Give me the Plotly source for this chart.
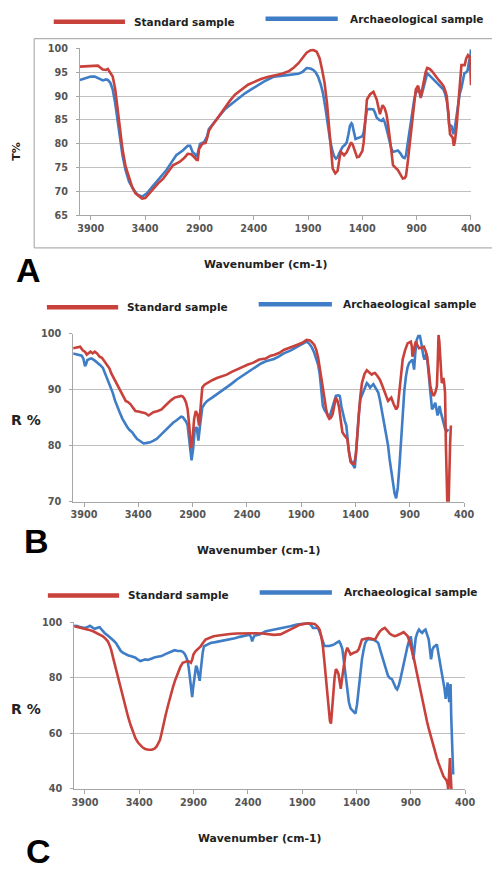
import plotly.graph_objects as go

W, H = 501, 871

# ---------------- DATA ----------------
# Panel A (T %)
a_std_wn = [4000, 3950, 3900, 3834, 3790, 3760, 3743, 3720, 3698, 3675, 3653, 3630, 3608, 3580, 3548, 3520, 3488, 3450, 3428, 3398,
            3360, 3323, 3280, 3233, 3190, 3143, 3083, 3040, 3008, 2975, 2948, 2925, 2915, 2903, 2873, 2843, 2825, 2813, 2783, 2753,
            2710, 2663, 2620, 2573, 2510, 2453, 2393, 2333, 2273, 2213, 2140, 2078, 2030, 1988, 1950, 1913, 1880, 1853, 1820, 1793,
            1770, 1748, 1725, 1703, 1688, 1673, 1649, 1628, 1610, 1598, 1583, 1568, 1544, 1520, 1503, 1488, 1473, 1449, 1430, 1413,
            1400, 1388, 1373, 1358, 1328, 1298, 1268, 1250, 1238, 1226, 1214, 1195, 1178, 1163, 1148, 1133, 1118, 1095, 1073, 1050,
            1028, 1010, 998, 983, 968, 953, 938, 923, 908, 887, 863, 848, 833, 818, 803, 780, 758, 730, 698, 675,
            653, 638, 623, 608, 593, 569, 558, 548, 533, 518, 503, 488, 458, 444, 428, 410, 400]
a_std_t = [96.2, 96.3, 96.4, 96.4, 95.6, 95.5, 95.7, 95.0, 94.1, 91.5, 87.2, 83.0, 78.9, 75.3, 72.7, 71.0, 69.6, 68.8, 68.5, 68.6,
           69.6, 70.7, 71.7, 72.7, 74.1, 75.5, 76.2, 77.0, 77.9, 77.8, 77.2, 76.6, 76.6, 78.9, 80.0, 80.2, 81.5, 82.7, 83.8, 84.8,
           86.2, 87.6, 89.0, 90.3, 91.4, 92.4, 93.0, 93.6, 94.0, 94.3, 94.7, 95.2, 96.0, 96.9, 98.0, 99.1, 99.6, 99.7, 99.3, 97.9,
           95.5, 92.8, 88.5, 83.1, 78.5, 74.8, 73.8, 74.3, 77.0, 78.3, 78.0, 77.6, 78.2, 79.5, 80.3, 79.8, 78.9, 77.2, 77.3, 77.9,
           78.5, 80.3, 85.0, 89.3, 90.4, 90.9, 89.3, 87.5, 86.2, 87.2, 88.1, 87.5, 86.2, 84.0, 81.7, 78.5, 75.5, 75.0, 74.5, 73.6,
           72.7, 72.8, 73.3, 76.0, 78.9, 81.8, 84.5, 88.0, 91.4, 92.2, 89.6, 91.5, 93.4, 95.0, 95.9, 95.7, 95.2, 94.3, 93.4, 92.8,
           92.1, 91.2, 90.0, 86.0, 82.0, 81.3, 79.6, 80.5, 83.5, 88.0, 93.0, 96.5, 96.5, 97.9, 98.6, 98.2, 92.3]

a_arc_wn = [4000, 3950, 3900, 3863, 3820, 3788, 3760, 3743, 3720, 3698, 3675, 3653, 3630, 3608, 3580, 3548, 3510, 3473, 3428, 3383,
            3340, 3293, 3250, 3203, 3160, 3113, 3053, 3008, 2985, 2963, 2940, 2924, 2910, 2894, 2855, 2830, 2813, 2783, 2753, 2710,
            2663, 2600, 2543, 2480, 2423, 2363, 2303, 2250, 2213, 2130, 2048, 1988, 1950, 1913, 1880, 1853, 1830, 1808, 1785, 1763,
            1740, 1718, 1695, 1673, 1658, 1643, 1628, 1613, 1598, 1583, 1560, 1544, 1528, 1514, 1500, 1493, 1478, 1463, 1440, 1418,
            1400, 1388, 1373, 1358, 1330, 1298, 1283, 1268, 1245, 1223, 1208, 1193, 1170, 1148, 1133, 1118, 1095, 1073, 1050, 1028,
            1010, 998, 983, 968, 953, 938, 923, 908, 878, 857, 842, 827, 803, 780, 758, 730, 698, 675, 653, 638,
            623, 608, 602, 578, 563, 548, 533, 518, 503, 488, 473, 461, 443, 431, 420, 405, 400]
a_arc_t = [93.4, 93.8, 94.1, 94.1, 93.6, 93.3, 93.5, 93.4, 92.8, 91.4, 88.5, 85.2, 81.5, 77.6, 74.5, 72.1, 70.5, 69.4, 68.9, 69.6,
           70.8, 72.1, 73.3, 74.5, 76.0, 77.6, 78.6, 79.6, 79.6, 78.3, 77.8, 77.2, 78.5, 80.0, 80.4, 81.5, 83.1, 84.0, 84.8, 86.0,
           87.3, 88.5, 89.6, 90.6, 91.4, 92.3, 93.1, 93.7, 94.1, 94.3, 94.5, 94.7, 95.1, 95.9, 95.8, 95.5, 95.0, 94.1, 92.6, 90.7,
           87.5, 83.8, 80.5, 78.3, 77.3, 76.9, 77.2, 78.0, 78.8, 79.3, 79.8, 80.3, 82.0, 83.8, 84.3, 84.1, 82.5, 81.0, 81.2, 81.4,
           81.6, 82.4, 85.0, 87.2, 87.3, 87.2, 86.5, 85.5, 85.0, 84.8, 85.2, 84.5, 82.5, 80.3, 79.0, 78.3, 78.4, 78.6, 78.0, 77.2,
           77.0, 77.6, 80.0, 82.4, 85.0, 87.2, 89.2, 90.7, 91.4, 90.0, 91.5, 92.8, 94.8, 94.3, 93.8, 93.0, 92.4, 91.9, 91.4, 90.5,
           89.0, 86.5, 84.1, 83.7, 82.0, 83.5, 86.1, 88.9, 90.5, 91.7, 93.5, 94.8, 95.0, 95.4, 97.0, 98.5, 99.8]

# Panel B (R %)
b_std_wn = [4000, 3970, 3936, 3910, 3891, 3875, 3861, 3840, 3820, 3801, 3780, 3756, 3735, 3711, 3695, 3681, 3665, 3651, 3630, 3606,
            3585, 3561, 3540, 3516, 3495, 3471, 3450, 3426, 3400, 3366, 3335, 3306, 3285, 3261, 3220, 3186, 3155, 3126, 3095, 3066,
            3036, 3006, 2990, 2976, 2960, 2946, 2931, 2916, 2901, 2886, 2871, 2856, 2841, 2826, 2811, 2790, 2766, 2720, 2676, 2630,
            2586, 2540, 2496, 2436, 2390, 2346, 2286, 2226, 2181, 2151, 2100, 2061, 2000, 1941, 1890, 1851, 1820, 1806, 1780, 1761,
            1745, 1731, 1716, 1701, 1686, 1671, 1656, 1641, 1626, 1611, 1596, 1581, 1566, 1551, 1536, 1521, 1500, 1476, 1461, 1446,
            1431, 1416, 1405, 1395, 1383, 1371, 1356, 1341, 1318, 1296, 1275, 1251, 1236, 1221, 1200, 1176, 1155, 1131, 1116, 1101,
            1086, 1071, 1050, 1026, 1011, 996, 981, 966, 945, 921, 891, 882, 876, 861, 846, 831, 816, 795, 771, 756,
            741, 726, 711, 696, 681, 666, 651, 643, 636, 628, 621, 613, 606, 598, 591, 583, 576, 568, 561, 553,
            545, 537, 529, 522]
b_std_r = [97.4, 97.5, 97.7, 97.0, 96.8, 96.3, 96.5, 96.8, 96.5, 96.8, 96.5, 95.9, 95.7, 95.1, 94.7, 94.2, 93.8, 93.0, 92.2, 91.2,
           90.5, 89.5, 88.8, 88.0, 87.8, 87.4, 86.8, 86.2, 86.1, 86.0, 85.8, 85.4, 85.7, 86.0, 86.2, 86.5, 87.1, 87.7, 88.2, 88.6,
           88.8, 88.9, 88.8, 88.4, 87.7, 86.5, 83.6, 79.5, 81.2, 84.8, 86.2, 85.6, 83.6, 87.7, 90.4, 90.9, 91.2, 91.7, 92.1, 92.4,
           92.7, 93.2, 93.6, 94.2, 94.5, 94.8, 95.4, 95.6, 96.1, 96.2, 96.6, 97.1, 97.5, 98.0, 98.4, 98.9, 98.8, 98.6, 98.0, 97.1,
           95.8, 94.2, 92.5, 90.6, 88.5, 86.5, 85.3, 84.8, 85.0, 85.6, 87.5, 88.6, 88.0, 86.8, 84.5, 82.4, 81.8, 81.2, 79.0, 77.1,
           76.8, 76.8, 77.5, 78.9, 82.0, 85.9, 88.8, 91.2, 92.8, 93.5, 93.2, 92.7, 92.9, 93.0, 92.5, 91.8, 90.8, 89.5, 88.8, 88.0,
           88.3, 88.6, 87.5, 86.5, 87.0, 89.5, 92.5, 95.4, 97.0, 98.3, 98.6, 97.8, 95.9, 97.0, 98.6, 98.0, 97.4, 97.5, 97.7, 97.0,
           95.9, 93.5, 90.6, 89.5, 88.9, 89.5, 90.6, 95.0, 99.8, 98.5, 96.5, 93.5, 91.2, 91.5, 92.1, 91.0, 89.5, 80.0, 68.0, 68.0,
           68.0, 77.7, 80.5, 83.6]

b_arc_wn = [4000, 3970, 3921, 3905, 3891, 3880, 3870, 3850, 3831, 3800, 3771, 3750, 3726, 3705, 3681, 3660, 3636, 3615, 3591, 3570,
            3546, 3525, 3501, 3480, 3456, 3435, 3411, 3380, 3351, 3320, 3291, 3260, 3231, 3200, 3171, 3140, 3111, 3080, 3051, 3025,
            3006, 2990, 2976, 2960, 2946, 2935, 2925, 2910, 2895, 2880, 2862, 2855, 2847, 2832, 2811, 2790, 2766, 2720, 2676, 2630,
            2586, 2540, 2496, 2450, 2406, 2360, 2316, 2270, 2226, 2181, 2151, 2100, 2061, 2000, 1941, 1890, 1851, 1830, 1806, 1780,
            1761, 1745, 1731, 1716, 1701, 1686, 1671, 1656, 1641, 1626, 1611, 1596, 1581, 1560, 1545, 1530, 1515, 1500, 1485, 1473,
            1461, 1446, 1431, 1419, 1407, 1396, 1386, 1371, 1356, 1341, 1326, 1311, 1296, 1281, 1266, 1251, 1236, 1221, 1206, 1191,
            1176, 1161, 1146, 1131, 1116, 1101, 1086, 1071, 1056, 1041, 1026, 1011, 996, 981, 966, 951, 936, 921, 906, 891,
            876, 868, 861, 850, 837, 822, 807, 796, 786, 775, 765, 756, 747, 737, 726, 711, 696, 681, 666, 655,
            645, 636, 627, 615, 603, 590, 575, 560, 548]
b_arc_r = [96.5, 96.3, 96.1, 95.5, 94.2, 94.6, 95.3, 95.5, 95.6, 95.2, 94.8, 94.4, 93.9, 92.9, 91.8, 90.7, 89.5, 88.1, 86.8, 85.9,
           84.8, 84.0, 83.3, 82.8, 82.4, 81.8, 81.2, 80.8, 80.4, 80.5, 80.6, 80.9, 81.2, 81.8, 82.4, 83.0, 83.6, 84.1, 84.5, 84.9,
           85.2, 85.1, 84.8, 84.3, 83.6, 82.0, 80.1, 77.4, 79.5, 83.0, 83.3, 82.0, 80.9, 83.6, 86.8, 87.5, 88.0, 88.6, 89.2, 89.8,
           90.4, 91.1, 91.8, 92.4, 93.0, 93.6, 94.2, 94.7, 95.1, 95.4, 95.5, 96.0, 96.5, 97.0, 97.6, 98.1, 98.6, 98.3, 97.7, 96.6,
           95.6, 94.5, 93.0, 89.5, 87.1, 86.4, 86.0, 85.5, 85.1, 86.0, 87.1, 88.0, 88.9, 89.0, 88.9, 87.0, 85.4, 84.5, 83.6, 81.0,
           78.9, 77.5, 76.8, 76.5, 76.0, 78.5, 81.8, 85.5, 88.3, 89.0, 89.5, 90.5, 91.2, 90.9, 90.4, 90.7, 91.0, 90.5, 90.0, 89.5,
           88.2, 86.5, 84.8, 83.0, 81.5, 80.1, 77.5, 75.4, 73.5, 71.5, 70.6, 72.5, 76.3, 81.5, 86.5, 89.8, 92.4, 94.0, 94.8, 95.2,
           95.4, 94.5, 93.6, 96.5, 98.9, 99.6, 99.6, 98.5, 97.1, 96.0, 95.4, 96.0, 96.5, 95.0, 92.4, 89.5, 86.5, 87.0, 87.7, 86.5,
           85.4, 86.0, 87.1, 86.0, 85.0, 84.0, 83.0, 82.5, 83.0]

# Panel C (R %)
c_std_wn = [4000, 3960, 3915, 3870, 3825, 3780, 3735, 3710, 3690, 3675, 3660, 3638, 3615, 3593, 3570, 3548, 3525, 3503, 3480, 3458,
            3435, 3412, 3390, 3368, 3345, 3315, 3285, 3260, 3240, 3225, 3210, 3195, 3180, 3158, 3135, 3113, 3090, 3068, 3045, 3023,
            3000, 2978, 2955, 2940, 2925, 2913, 2901, 2883, 2865, 2835, 2813, 2790, 2750, 2715, 2670, 2625, 2565, 2505, 2445, 2385,
            2325, 2265, 2220, 2190, 2160, 2100, 2055, 2010, 1965, 1920, 1880, 1845, 1815, 1785, 1760, 1740, 1725, 1710, 1695, 1680,
            1668, 1656, 1645, 1635, 1625, 1614, 1602, 1590, 1578, 1566, 1555, 1545, 1530, 1515, 1500, 1485, 1470, 1455, 1435, 1416,
            1395, 1380, 1365, 1350, 1320, 1290, 1260, 1230, 1208, 1185, 1160, 1140, 1118, 1095, 1073, 1050, 1028, 1005, 985, 966,
            948, 930, 915, 900, 885, 870, 855, 840, 825, 810, 795, 780, 765, 750, 735, 720, 705, 690, 675, 660,
            645, 630, 615, 600, 585, 570, 560, 555, 548, 540, 533, 525]
c_std_r = [98.5, 98.1, 97.9, 97.3, 96.7, 95.8, 94.9, 94.0, 93.1, 91.8, 90.2, 86.7, 83.1, 79.5, 76.0, 72.4, 68.9, 65.9, 63.0, 60.5,
           58.2, 56.7, 55.6, 54.9, 54.4, 54.1, 54.1, 54.5, 55.3, 56.2, 57.6, 60.0, 63.0, 66.5, 70.1, 73.5, 76.6, 79.3, 81.9, 83.8,
           85.4, 85.8, 86.0, 85.8, 85.4, 86.5, 88.4, 89.5, 90.2, 91.3, 92.6, 93.7, 94.4, 94.9, 95.2, 95.5, 95.7, 95.9, 96.0, 96.1,
           96.0, 95.9, 95.6, 95.5, 95.4, 95.6, 96.4, 97.3, 98.2, 99.1, 99.4, 99.6, 99.5, 99.3, 98.5, 97.3, 95.0, 91.4, 85.5, 79.5,
           73.5, 67.7, 64.5, 63.5, 68.0, 75.4, 80.0, 83.1, 82.5, 81.3, 78.5, 76.0, 80.5, 85.4, 89.0, 90.8, 89.5, 88.4, 88.8, 89.0,
           89.5, 90.2, 92.0, 93.7, 94.0, 94.3, 94.0, 93.7, 95.2, 96.7, 97.5, 97.9, 97.0, 95.9, 95.3, 95.0, 95.2, 95.5, 96.0, 96.4,
           95.8, 95.0, 93.5, 91.4, 89.0, 86.6, 83.7, 80.7, 77.8, 74.8, 71.8, 68.9, 66.5, 64.1, 61.7, 59.4, 57.0, 54.7, 52.9, 51.1,
           49.3, 47.6, 46.0, 44.6, 43.8, 43.0, 41.5, 39.0, 45.0, 51.1, 45.0, 39.0]

c_arc_wn = [4000, 3970, 3945, 3920, 3900, 3875, 3855, 3830, 3810, 3785, 3765, 3740, 3720, 3690, 3660, 3638, 3615, 3593, 3570, 3548,
            3525, 3500, 3480, 3458, 3435, 3412, 3390, 3368, 3345, 3322, 3300, 3278, 3255, 3225, 3195, 3165, 3135, 3105, 3075, 3045,
            3015, 2995, 2979, 2967, 2955, 2943, 2931, 2922, 2913, 2904, 2895, 2886, 2877, 2868, 2859, 2851, 2844, 2836, 2829, 2817,
            2805, 2775, 2745, 2700, 2655, 2610, 2565, 2520, 2475, 2430, 2385, 2370, 2361, 2350, 2340, 2295, 2265, 2235, 2200, 2160,
            2110, 2070, 2010, 1950, 1900, 1845, 1820, 1800, 1778, 1755, 1740, 1725, 1710, 1695, 1672, 1650, 1627, 1605, 1582, 1560,
            1545, 1530, 1515, 1500, 1485, 1470, 1455, 1440, 1425, 1410, 1395, 1380, 1365, 1350, 1335, 1320, 1305, 1290, 1268, 1245,
            1222, 1200, 1178, 1155, 1133, 1110, 1092, 1074, 1062, 1050, 1038, 1026, 1011, 996, 978, 960, 945, 930, 915, 900,
            888, 876, 866, 855, 840, 825, 810, 795, 780, 765, 750, 735, 724, 714, 708, 702, 690, 675, 660, 645,
            630, 615, 600, 590, 579, 570, 561, 553, 546, 540, 534, 528, 522, 516, 510]
c_arc_r = [98.7, 98.6, 98.2, 98.0, 97.9, 98.3, 98.7, 98.0, 97.6, 98.0, 98.2, 97.0, 96.1, 95.2, 94.3, 93.4, 92.5, 91.0, 89.6, 88.9,
           88.4, 88.0, 87.8, 87.6, 87.2, 86.5, 86.0, 86.3, 86.6, 86.4, 86.6, 87.0, 87.4, 87.6, 87.8, 88.4, 89.0, 89.5, 89.9, 89.6,
           89.6, 89.2, 88.4, 87.3, 86.0, 83.0, 79.5, 76.0, 73.0, 76.5, 79.5, 82.5, 84.3, 83.5, 82.0, 80.0, 78.9, 82.0, 85.4, 88.8,
           91.3, 92.0, 92.5, 92.8, 93.1, 93.4, 93.7, 94.2, 94.7, 95.1, 95.5, 94.5, 93.1, 94.3, 95.1, 95.5, 96.1, 96.7, 97.0, 97.3,
           97.6, 97.9, 98.5, 99.1, 99.4, 99.6, 99.0, 97.9, 97.9, 97.9, 96.5, 94.9, 92.8, 91.4, 91.4, 91.4, 91.7, 92.0, 92.6, 93.1,
           92.0, 90.2, 85.5, 80.7, 76.0, 71.2, 69.0, 68.3, 67.6, 67.1, 70.5, 76.0, 81.5, 86.6, 90.0, 92.5, 93.5, 93.9, 93.8, 93.7,
           93.2, 92.5, 89.5, 86.6, 83.5, 80.7, 79.8, 79.5, 78.5, 77.2, 76.3, 75.8, 77.2, 79.5, 83.0, 86.6, 89.2, 91.4, 93.5, 94.9,
           91.0, 86.6, 90.5, 94.3, 96.2, 97.3, 96.6, 96.1, 96.9, 97.3, 95.5, 93.7, 90.0, 86.6, 88.0, 90.0, 91.0, 91.5, 92.0, 88.5,
           85.4, 82.5, 79.5, 76.0, 72.4, 75.0, 78.3, 74.0, 71.2, 74.0, 77.7, 66.0, 55.9, 50.0, 45.2]

x_ticks = [3900, 3400, 2900, 2400, 1900, 1400, 900, 400]
x_title = "Wavenumber (cm-1)"
legend_names = ["Standard sample", "Archaeological sample"]

RED = "#C9413B"
BLUE = "#3F7DC6"
GRID = "#C0C0C0"
AXIS = "#A6A6A6"
TICKC = "#555555"
FONT = "DejaVu Sans"


def fx(px):
    return px / W


def fy(py):
    return 1 - py / H


panels = [
    # dict of layout geometry (pixels)
    dict(ax="", std=(a_std_wn, a_std_t), arc=(a_arc_wn, a_arc_t), left=79.8, right=480.5, top=43, bottom=212,
         yr=[65, 100], dt=5, ytitle="T%", ytx=15, yty=147, ytsize=11, ytangle=-90,
         xtx=270, xty=262, letter="A", lx=27, ly=267,
         leg=dict(r=(53, 126, 16), rt=(133, 16), b=(270, 344, 13), bt=(354, 13))),
    dict(ax="2", std=(b_std_wn, b_std_r), arc=(b_arc_wn, b_arc_r), left=72.9, right=473.5, top=332, bottom=502,
         yr=[70, 100], dt=10, ytitle="R %", ytx=25, yty=419, ytsize=14, ytangle=0,
         xtx=263, xty=551, letter="B", lx=35, ly=542,
         leg=dict(r=(46, 119, 305), rt=(126, 305), b=(263, 338, 302), bt=(347, 302))),
    dict(ax="3", std=(c_std_wn, c_std_r), arc=(c_arc_wn, c_arc_r), left=73.9, right=474.5, top=624, bottom=793,
         yr=[40, 100], dt=20, ytitle="R %", ytx=25, yty=712, ytsize=14, ytangle=0,
         xtx=264, xty=843, letter="C", lx=37, ly=856,
         leg=dict(r=(47, 120, 597), rt=(127, 597), b=(264, 338, 594), bt=(348, 594))),
]

fig = go.Figure()
annotations = []
shapes = []
layout = dict(width=W, height=H, margin=dict(l=0, r=0, t=0, b=0), paper_bgcolor="white",
              plot_bgcolor="white", showlegend=False)

for p in panels:
    ax = p["ax"]
    fig.add_trace(go.Scatter(x=p["arc"][0], y=p["arc"][1], mode="lines", name=legend_names[1],
                             line=dict(color=BLUE, width=2.6), xaxis="x" + ax, yaxis="y" + ax))
    fig.add_trace(go.Scatter(x=p["std"][0], y=p["std"][1], mode="lines", name=legend_names[0],
                             line=dict(color=RED, width=2.6), xaxis="x" + ax, yaxis="y" + ax))
    layout["xaxis" + ax] = dict(domain=[fx(p["left"]), fx(p["right"])], range=[4000, 400],
                                anchor="y" + ax, tickmode="array", tickvals=x_ticks,
                                showgrid=False, zeroline=False, showline=True, linecolor=AXIS, linewidth=1,
                                ticks="outside", ticklen=4, tickcolor=AXIS,
                                tickfont=dict(family=FONT, size=9.7, color=TICKC, weight="bold"))
    layout["yaxis" + ax] = dict(domain=[fy(p["bottom"]), fy(p["top"])], range=p["yr"], dtick=p["dt"],
                                tick0=p["yr"][0], anchor="x" + ax, showgrid=True, gridcolor=GRID, gridwidth=1,
                                zeroline=False, showline=True, linecolor=AXIS, linewidth=1,
                                ticks="outside", ticklen=3, tickcolor=AXIS, ticklabelstandoff=6,
                                tickfont=dict(family=FONT, size=9.7, color=TICKC, weight="bold"))
    # axis titles
    annotations.append(dict(x=fx(p["xtx"]), y=fy(p["xty"]), xref="paper", yref="paper", text=x_title,
                            showarrow=False, xanchor="center", yanchor="middle",
                            font=dict(family=FONT, size=10.8, color="#222222", weight="bold")))
    annotations.append(dict(x=fx(p["ytx"]), y=fy(p["yty"]), xref="paper", yref="paper", text=p["ytitle"],
                            showarrow=False, xanchor="center", yanchor="middle", textangle=p["ytangle"],
                            font=dict(family=FONT, size=p["ytsize"], color="#222222", weight="bold")))
    # panel letter
    annotations.append(dict(x=fx(p["lx"]), y=fy(p["ly"]), xref="paper", yref="paper", text=p["letter"],
                            showarrow=False, xanchor="center", yanchor="middle",
                            font=dict(family="Liberation Sans", size=34, color="#000000", weight="bold")))
    # legend
    lg = p["leg"]
    shapes.append(dict(type="line", xref="paper", yref="paper", x0=fx(lg["r"][0]), x1=fx(lg["r"][1]),
                       y0=fy(lg["r"][2]), y1=fy(lg["r"][2]), line=dict(color=RED, width=4.5)))
    shapes.append(dict(type="line", xref="paper", yref="paper", x0=fx(lg["b"][0]), x1=fx(lg["b"][1]),
                       y0=fy(lg["b"][2]), y1=fy(lg["b"][2]), line=dict(color=BLUE, width=4.5)))
    annotations.append(dict(x=fx(lg["rt"][0]), y=fy(lg["rt"][1]), xref="paper", yref="paper",
                            text=legend_names[0], showarrow=False, xanchor="left", yanchor="middle",
                            font=dict(family=FONT, size=10.5, color="#222222", weight="bold")))
    annotations.append(dict(x=fx(lg["bt"][0]), y=fy(lg["bt"][1]), xref="paper", yref="paper",
                            text=legend_names[1], showarrow=False, xanchor="left", yanchor="middle",
                            font=dict(family=FONT, size=10.5, color="#222222", weight="bold")))

# frame around panel A (open on the right edge)
for (x0, y0, x1, y1) in [(33, 33, 502, 33), (33, 33, 33, 245), (33, 245, 502, 245)]:
    shapes.append(dict(type="line", xref="paper", yref="paper", x0=fx(x0), y0=fy(y0), x1=fx(x1), y1=fy(y1),
                       line=dict(color="#B0B0B0", width=1.2)))

layout["annotations"] = annotations
layout["shapes"] = shapes
fig.update_layout(**layout)
fig.write_html("out.html")
